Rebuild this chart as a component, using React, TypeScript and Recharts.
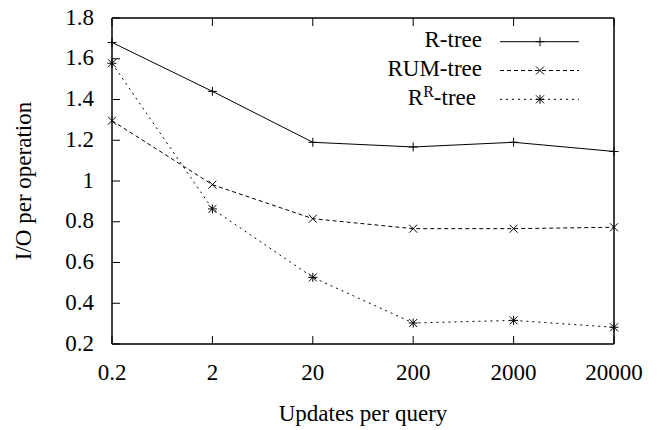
import { LineChart, Line, XAxis, YAxis } from 'recharts'

const categories = ['0.2', '2', '20', '200', '2000', '20000']
const rtree = [1.68, 1.44, 1.19, 1.167, 1.19, 1.145]
const rumtree = [1.296, 0.982, 0.815, 0.766, 0.766, 0.773]
const rrtree = [1.578, 0.863, 0.527, 0.303, 0.316, 0.282]
const yTicks = [0.2, 0.4, 0.6, 0.8, 1, 1.2, 1.4, 1.6, 1.8]
const xTicks = [0, 1, 2, 3, 4, 5]

const data = categories.map((c, i) => ({
  i,
  label: c,
  rtree: rtree[i],
  rum: rumtree[i],
  rr: rrtree[i],
}))

const FONT = "'Liberation Serif', 'Times New Roman', Times, serif"
const FS = 23
const W = 652
const H = 422
const MARGIN = { top: 9, right: 45, bottom: 46, left: 0 }
const PLOT_LEFT = 104
const PLOT_RIGHT = W - MARGIN.right - 1
const PLOT_TOP = MARGIN.top + 1
const PLOT_BOTTOM = H - MARGIN.bottom - 40
const TICK = 8

type Marker = 'plus' | 'cross' | 'star'

function markerPath(kind: Marker, x: number, y: number) {
  const p = 4.5
  const c = 4
  const plus = `M${x - p},${y}H${x + p}M${x},${y - p}V${y + p}`
  const cross = `M${x - c},${y - c}L${x + c},${y + c}M${x - c},${y + c}L${x + c},${y - c}`
  if (kind === 'plus') return plus
  if (kind === 'cross') return cross
  return plus + cross
}

const series: { key: string; name: string; dash?: string; marker: Marker }[] = [
  { key: 'rtree', name: 'R-tree', marker: 'plus' },
  { key: 'rum', name: 'RUM-tree', dash: '4 3', marker: 'cross' },
  { key: 'rr', name: 'RR-tree', dash: '2 4', marker: 'star' },
]

const makeDot = (kind: Marker) => (props: any) => {
  const { cx, cy, index } = props
  if (cx == null || cy == null) return <g key={index} />
  return <path key={index} d={markerPath(kind, cx, cy)} stroke="#000" strokeWidth={1} fill="none" />
}

// gnuplot style: ticks point inward, labels outside
const BottomTick = (props: any) => {
  const { x, payload } = props
  return (
    <g>
      <line x1={x} x2={x} y1={PLOT_BOTTOM} y2={PLOT_BOTTOM - TICK} stroke="#000" />
      <text x={x} y={PLOT_BOTTOM + 35.5} textAnchor="middle" fontFamily={FONT} fontSize={FS} fill="#000">
        {categories[payload.value]}
      </text>
    </g>
  )
}

const TopTick = (props: any) => {
  const { x } = props
  return <line x1={x} x2={x} y1={PLOT_TOP} y2={PLOT_TOP + TICK} stroke="#000" />
}

const LeftTick = (props: any) => {
  const { y, payload } = props
  return (
    <g>
      <line x1={PLOT_LEFT} x2={PLOT_LEFT + TICK} y1={y} y2={y} stroke="#000" />
      <text x={86} y={y + 6.5} textAnchor="end" fontFamily={FONT} fontSize={FS} fill="#000">
        {String(payload.value)}
      </text>
    </g>
  )
}

const RightTick = (props: any) => {
  const { y } = props
  return <line x1={PLOT_RIGHT} x2={PLOT_RIGHT - TICK} y1={y} y2={y} stroke="#000" />
}

function LegendOverlay() {
  const rows = [33.7, 62.5, 91.3]
  return (
    <svg width={W} height={H} style={{ position: 'absolute', left: 0, top: 0, pointerEvents: 'none' }}>
      {series.map((s, k) => (
        <g key={s.key}>
          <text
            x={s.marker === 'star' ? 468 : 474}
            y={rows[k] + 5.5}
            textAnchor="end"
            fontFamily={FONT}
            fontSize={FS}
            fill="#000"
          >
            {s.marker === 'star' ? (
              <>
                R<tspan fontSize={16} dy={-8}>R</tspan>
                <tspan dy={8}>-tree</tspan>
              </>
            ) : (
              s.name
            )}
          </text>
          <line x1={492} x2={571} y1={rows[k]} y2={rows[k]} stroke="#000" strokeWidth={1} strokeDasharray={s.dash} />
          <path d={markerPath(s.marker, 532, rows[k])} stroke="#000" strokeWidth={1} fill="none" />
        </g>
      ))}
    </svg>
  )
}

export default function App() {
  const axisLine = { stroke: '#000', strokeWidth: 1.5 }
  return (
    <div style={{ position: 'relative', width: W, height: H }}>
      <style>{'svg { overflow: visible; }'}</style>
      <LineChart width={W} height={H} data={data} margin={MARGIN}>
        <XAxis
          dataKey="i"
          type="number"
          domain={[0, 5]}
          ticks={xTicks}
          height={40}
          tick={<BottomTick />}
          tickLine={false}
          axisLine={axisLine}
          label={{ value: 'Updates per query', position: 'bottom', offset: 20.5, style: { fontSize: FS, fontFamily: FONT, fill: '#000' } }}
        />
        <XAxis
          xAxisId="top"
          orientation="top"
          type="number"
          domain={[0, 5]}
          ticks={xTicks}
          height={1}
          tick={<TopTick />}
          tickLine={false}
          axisLine={axisLine}
        />
        <YAxis
          type="number"
          domain={[0.2, 1.8]}
          ticks={yTicks}
          width={104}
          tick={<LeftTick />}
          tickLine={false}
          axisLine={axisLine}
          label={{
            value: 'I/O per operation',
            angle: -90,
            position: 'insideLeft',
            offset: 15,
            style: { fontSize: FS, fontFamily: FONT, fill: '#000', textAnchor: 'middle' },
          }}
        />
        <YAxis
          yAxisId="right"
          orientation="right"
          type="number"
          domain={[0.2, 1.8]}
          ticks={yTicks}
          width={1}
          tick={<RightTick />}
          tickLine={false}
          axisLine={axisLine}
        />
        {series.map((s) => (
          <Line
            key={s.key}
            type="linear"
            dataKey={s.key}
            name={s.name}
            stroke="#000"
            strokeWidth={1}
            strokeDasharray={s.dash}
            dot={makeDot(s.marker)}
            activeDot={false}
            isAnimationActive={false}
          />
        ))}
      </LineChart>
      <LegendOverlay />
    </div>
  )
}
